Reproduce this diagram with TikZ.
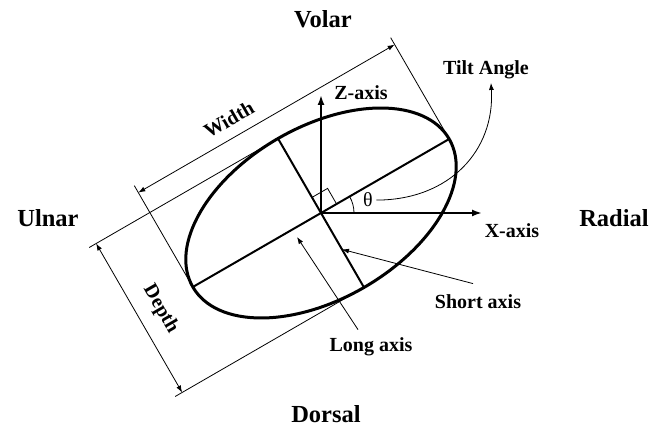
\documentclass[tikz,border=0pt]{standalone}
\usepackage{fontspec}
\setmainfont{Liberation Serif}
\usetikzlibrary{arrows.meta,calc}
\tikzset{
  side/.style={font=\fontsize{24.5}{26}\selectfont\bfseries, anchor=base},
  lbl/.style={font=\fontsize{20}{22}\selectfont\bfseries, anchor=base},
  dim/.style={line width=0.8pt},
  dimarr/.style={dim, {Latex[length=7pt,width=5pt]}-{Latex[length=7pt,width=5pt]}},
  ptr/.style={dim, -{Latex[length=7pt,width=5pt]}},
  ax/.style={line width=2pt, -{Latex[length=10pt,width=7pt]}},
  oval/.style={line width=3pt}
}

\begin{document}
\begin{tikzpicture}[x=1pt,y=1pt]
\useasboundingbox (0,0) rectangle (664,430);
\coordinate (O) at (321,217);
\coordinate (LA1) at ($(O)+(210:148)$);
\coordinate (LA2) at ($(O)+(30:148)$);
\coordinate (SA1) at ($(O)+(120:86)$);
\coordinate (SA2) at ($(O)+(300:86)$);
\coordinate (xend) at (482,217);
\coordinate (zend) at (321,335);
% width and depth
\coordinate (W1) at ($(LA1)+(120:109)$);
\coordinate (W2) at ($(LA2)+(120:109)$);
\coordinate (WE1) at ($(LA1)+(120:117)$);
\coordinate (WE2) at ($(LA2)+(120:117)$);
\coordinate (D1) at ($(SA1)+(210:210)$);
\coordinate (D2) at ($(SA2)+(210:210)$);
\coordinate (DE1) at ($(SA1)+(210:218)$);
\coordinate (DE2) at ($(SA2)+(210:218)$);
\draw[dim] (LA1) -- (WE1);
\draw[dim] (LA2) -- (WE2);
\draw[dimarr] (W1) -- (W2);
\draw[dim] (SA1) -- (DE1);
\draw[dim] (SA2) -- (DE2);
\draw[dimarr] (D1) -- (D2);
% section
\draw[oval, rotate around={30:(O)}] (O) ellipse [x radius=148, y radius=86];
\draw[line width=2pt] (LA1) -- (LA2);
\draw[line width=2pt] (SA1) -- (SA2);
\draw[ax] (O) -- (xend);
\draw[ax] (O) -- (zend);
\draw[dim] ($(O)+(120:18)$) -- ($(O)+(120:18)+(30:18)$) -- ($(O)+(30:18)$);
\draw[dim] ($(O)+(33,0)$) arc[start angle=0, end angle=30, radius=33];

\node[side] (volar) at (323,402) {Volar};
\node[side] (ulnar) at (48,203) {Ulnar};
\node[side] (radial) at (614,203) {Radial};
\node[side] (dorsal) at (326,7) {Dorsal};
\node[lbl] (zlab) at (361,330) {Z-axis};
\node[lbl] (xlab) at (512,192) {X-axis};
\node[lbl] (tilt) at (486,355) {Tilt Angle};
\node[lbl] (shortlab) at (478,121) {Short axis};
\node[lbl] (longlab) at (371,78) {Long axis};
\node[font=\fontsize{20}{22}\selectfont, anchor=base] (theta) at (368,223) {θ};
\node[lbl, anchor=center, rotate=30] (widthlab) at ($(O)+(210:33)+(120:127)$) {Width};
\node[lbl, anchor=center, rotate=-60] (depthlab) at ($(O)+(210:187)+(300:3)$) {Depth};

\coordinate (sa) at ($(O)+(300:42)$);
\coordinate (la) at (297,193);
\draw[ptr] (theta.east) .. controls (450,230) and (495,280) .. ([xshift=5pt]tilt.south);
\draw[ptr] ([shift={(-5,8)}]shortlab.north) -- (sa);
\draw[ptr] ([shift={(-13,5)}]longlab.north) -- (la);
\end{tikzpicture}
\end{document}
